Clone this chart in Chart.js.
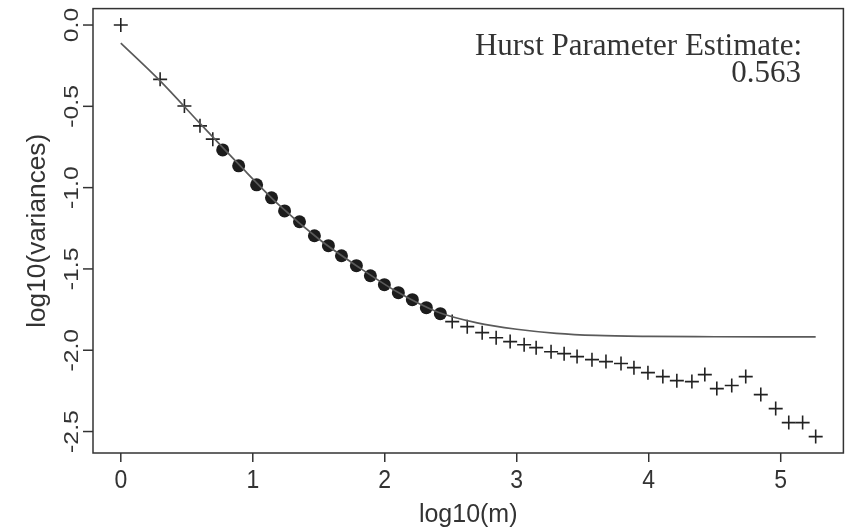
<!DOCTYPE html>
<html>
<head>
<meta charset="utf-8">
<title>Variance plot</title>
<script src="https://cdn.jsdelivr.net/npm/chart.js@4/dist/chart.umd.min.js"></script>
<style>
  html, body { margin: 0; padding: 0; background: #ffffff; }
  #wrap { width: 852px; height: 529px; }
</style>
</head>
<body>
<div id="wrap"><canvas id="varPlot" width="852" height="529"></canvas></div>
<script>
// points used for the fit (filled dots)
const fitX = [0.772, 0.893, 1.029, 1.142, 1.241, 1.354, 1.467, 1.573, 1.672, 1.785, 1.891, 1.997, 2.103, 2.209, 2.315, 2.421];
const fitY = [-0.768, -0.866, -0.983, -1.063, -1.143, -1.210, -1.296, -1.357, -1.419, -1.480, -1.542, -1.597, -1.646, -1.689, -1.738, -1.775];

// remaining aggregated variances (crosses)
const restX = [0, 0.298, 0.482, 0.600, 0.697,
  2.511, 2.625, 2.738, 2.844, 2.950, 3.056, 3.147, 3.260, 3.359, 3.457, 3.570, 3.676, 3.790, 3.888,
  3.994, 4.107, 4.213, 4.327, 4.425, 4.516, 4.629, 4.735, 4.849, 4.962, 5.061, 5.166, 5.265];
const restY = [0, -0.334, -0.498, -0.620, -0.702,
  -1.824, -1.855, -1.892, -1.923, -1.947, -1.966, -1.984, -2.009, -2.021, -2.039, -2.058, -2.070, -2.082, -2.107,
  -2.138, -2.162, -2.187, -2.193, -2.150, -2.236, -2.217, -2.162, -2.273, -2.359, -2.445, -2.445, -2.531];

// fitted curve
const curveX = [0, 0.3, 0.6, 0.9, 1.2, 1.5, 1.8, 2.1, 2.4, 2.7, 3.0, 3.3, 3.6, 4.0, 4.5, 5.0, 5.265];
const curveY = [-0.111, -0.345, -0.605, -0.862, -1.108, -1.316, -1.488, -1.644, -1.765, -1.832, -1.871, -1.896, -1.909, -1.915, -1.917, -1.918, -1.918];

const hurst = 0.563;

const xTicks = [0, 1, 2, 3, 4, 5];
const yTicks = [0, -0.5, -1, -1.5, -2, -2.5];

const toPts = (xs, ys) => xs.map((x, i) => ({ x: x, y: ys[i] }));

// R style box, ticks and labels (sans text is a bit tall and narrow)
const rAxes = {
  id: 'rAxes',
  afterDraw(chart) {
    const { ctx, chartArea: a, scales } = chart;
    const ink = '#333333';
    ctx.save();
    ctx.strokeStyle = ink;
    ctx.lineWidth = 1.5;
    ctx.strokeRect(a.left, a.top, a.right - a.left, a.bottom - a.top);

    ctx.fillStyle = ink;
    ctx.font = '23px "Liberation Sans", Arial, sans-serif';
    ctx.textAlign = 'center';
    ctx.textBaseline = 'middle';
    xTicks.forEach(v => {
      const px = scales.x.getPixelForValue(v);
      ctx.beginPath();
      ctx.moveTo(px, a.bottom);
      ctx.lineTo(px, a.bottom + 9);
      ctx.stroke();
      ctx.save();
      ctx.translate(px, 481);
      ctx.scale(1, 1.12);
      ctx.fillText(String(v), 0, 0);
      ctx.restore();
    });

    ctx.font = '21px "Liberation Sans", Arial, sans-serif';
    yTicks.forEach(v => {
      const py = scales.y.getPixelForValue(v);
      ctx.beginPath();
      ctx.moveTo(a.left, py);
      ctx.lineTo(a.left - 10, py);
      ctx.stroke();
      ctx.save();
      ctx.translate(72, py);
      ctx.rotate(-Math.PI / 2);
      ctx.scale(1.18, 1);
      ctx.fillText(v.toFixed(1), 0, 0);
      ctx.restore();
    });

    // axis titles
    ctx.font = '25px "Liberation Sans", Arial, sans-serif';
    ctx.textBaseline = 'alphabetic';
    ctx.fillText('log10(m)', (a.left + a.right) / 2, 522);
    ctx.save();
    ctx.translate(45, (a.top + a.bottom) / 2);
    ctx.rotate(-Math.PI / 2);
    ctx.scale(1.05, 1);
    ctx.fillText('log10(variances)', 0, 0);
    ctx.restore();

    // estimate note
    ctx.font = '31px "Liberation Serif", "Times New Roman", serif';
    ctx.textAlign = 'right';
    ctx.fillText('Hurst Parameter Estimate:', 802, 55);
    ctx.fillText(hurst.toFixed(3), 801, 82);
    ctx.restore();
  }
};

new Chart(document.getElementById('varPlot'), {
  type: 'scatter',
  data: {
    datasets: [
      {
        type: 'line',
        data: toPts(curveX, curveY),
        borderColor: '#5a5a5a',
        borderWidth: 1.7,
        pointRadius: 0,
        cubicInterpolationMode: 'monotone',
        fill: false
      },
      {
        data: toPts(fitX, fitY),
        pointStyle: 'circle',
        pointRadius: 6.5,
        backgroundColor: '#1c1c1c',
        borderColor: '#1c1c1c',
        borderWidth: 0
      },
      {
        data: toPts(restX, restY),
        pointStyle: 'cross',
        pointRadius: 7,
        borderColor: '#222222',
        borderWidth: 1.6
      }
    ]
  },
  options: {
    responsive: false,
    devicePixelRatio: 1,
    animation: false,
    layout: { padding: { left: 93, right: 7, top: 8, bottom: 76 } },
    plugins: { legend: { display: false }, tooltip: { enabled: false } },
    scales: {
      x: { type: 'linear', display: false, min: -0.2106, max: 5.475 },
      y: { type: 'linear', display: false, min: -2.632, max: 0.101 }
    }
  },
  plugins: [rAxes]
});
</script>
</body>
</html>
